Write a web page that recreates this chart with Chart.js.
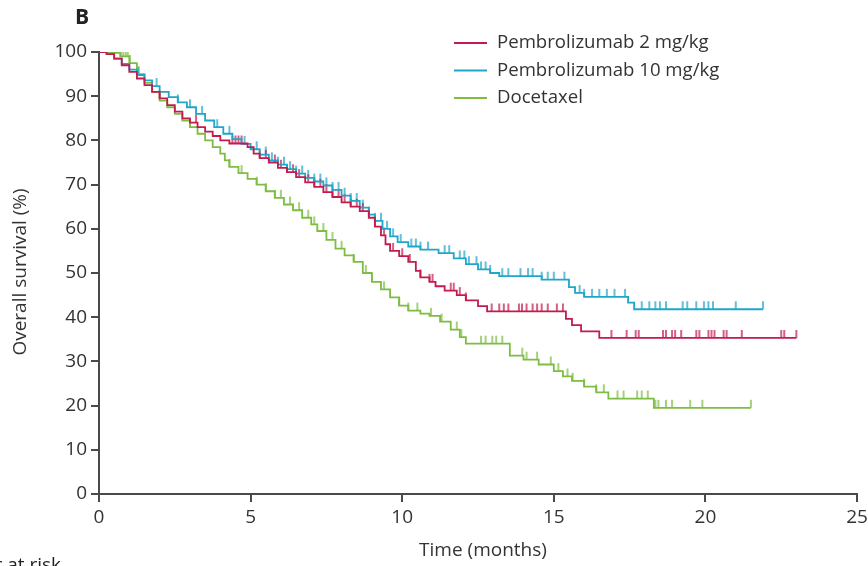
<!DOCTYPE html>
<html>
<head>
<meta charset="utf-8">
<script src="https://cdn.jsdelivr.net/npm/chart.js@4.4.0/dist/chart.umd.min.js"></script>
<style>
  html, body { margin: 0; padding: 0; background: #fff; }
  #wrap { width: 868px; height: 566px; position: relative; }
</style>
</head>
<body>
<div id="wrap"><canvas id="osChart"></canvas></div>
<script>
// Kaplan-Meier steps: [time in months, overall survival %]
const pembro2Steps = [
  [0, 100], [0.25, 99.5], [0.5, 98.5], [0.75, 97], [1, 95.5], [1.25, 94], [1.5, 92.5],
  [1.75, 91], [2, 89.5], [2.25, 88], [2.5, 86.5], [2.75, 85], [3, 84], [3.25, 83],
  [3.5, 82], [3.75, 81], [4, 80], [4.3, 79.3], [4.9, 78.5], [5.1, 77], [5.3, 76],
  [5.6, 75], [5.9, 73.8], [6.2, 72.8], [6.5, 71.7], [6.8, 70.5], [7.1, 69.5], [7.4, 68.3],
  [7.7, 67.2], [8, 66], [8.3, 65], [8.6, 64], [8.9, 62.5], [9.1, 60.5], [9.3, 58.5],
  [9.45, 56.5], [9.6, 55], [9.9, 53.8], [10.2, 52.5], [10.45, 50.5], [10.6, 49], [10.9, 48],
  [11.1, 47], [11.4, 46], [11.8, 45], [12.1, 43.8], [12.5, 42.5], [12.8, 41.3], [15.4, 39.6],
  [15.6, 38.2], [15.9, 36.8], [16.5, 35.3], [23.0, 35.3]
];
const pembro10Steps = [
  [0, 100], [0.25, 99.5], [0.5, 98.5], [0.75, 97.3], [1, 96], [1.25, 94.8], [1.5, 93.6],
  [1.75, 92.3], [2, 91], [2.3, 89.8], [2.6, 88.6], [2.9, 87.5], [3.2, 86], [3.5, 84.5],
  [3.8, 83], [4.1, 81.5], [4.4, 80.3], [4.7, 79.2], [5.0, 78], [5.3, 76.8], [5.6, 75.5],
  [5.9, 74.5], [6.2, 73.5], [6.5, 72.5], [6.8, 71.5], [7.1, 70.7], [7.4, 69.8], [7.7, 68.8],
  [8.0, 67.5], [8.3, 66.3], [8.6, 64.8], [8.9, 63.2], [9.1, 61.8], [9.35, 60], [9.6, 58.3],
  [9.85, 57], [10.2, 56], [10.6, 55.3], [11.2, 54.5], [11.7, 53.3], [12.1, 52], [12.5, 50.8],
  [12.9, 50], [13.2, 49.3], [14.6, 48.5], [15.5, 46.8], [15.7, 45.5], [16.0, 44.6],
  [17.45, 43.3], [17.65, 41.8], [21.9, 41.8]
];
const docetaxelSteps = [
  [0, 100], [0.4, 99.8], [0.7, 99], [1.0, 97.5], [1.25, 95], [1.5, 93], [1.75, 91], [2, 89],
  [2.25, 87.5], [2.5, 86], [2.75, 84.5], [3, 83], [3.25, 81.5], [3.5, 80], [3.75, 78.5],
  [4, 77], [4.15, 75.5], [4.3, 74], [4.6, 72.6], [4.9, 71.3], [5.2, 70], [5.5, 68.5],
  [5.8, 67], [6.1, 65.5], [6.4, 64.2], [6.7, 62.5], [7.0, 61], [7.2, 59.5], [7.5, 57.5],
  [7.8, 55.5], [8.1, 54], [8.4, 52.5], [8.7, 50], [9.0, 48], [9.3, 46.3], [9.6, 44.5],
  [9.9, 42.6], [10.2, 41.5], [10.6, 40.8], [10.9, 40.3], [11.25, 39], [11.6, 37.2],
  [11.9, 35.5], [12.1, 34], [13.55, 31.3], [14.0, 30.4], [14.5, 29.3], [15.0, 27.8],
  [15.3, 26.6], [15.6, 25.6], [16.0, 24.3], [16.4, 23], [16.8, 21.6], [18.3, 19.5], [21.5, 19.5]
];

// censoring times (months)
const pembro2Censor = [
  2.0, 3.2, 4.4, 4.5, 4.6, 4.7, 5.3, 5.5, 5.8, 6.0, 6.2, 6.4, 6.6, 6.9, 7.1, 7.3, 7.5, 7.7,
  7.9, 8.1, 8.3, 8.5, 8.7, 8.9, 9.1, 9.4, 9.7, 10.0, 10.25, 10.6, 10.9, 11.0, 11.6, 11.7,
  11.9, 12.1, 12.95, 13.2, 13.35, 13.5, 13.85, 13.95, 14.1, 14.3, 14.45, 14.6, 14.8, 15.1,
  15.3, 16.9, 17.4, 17.7, 17.8, 18.6, 18.7, 18.9, 19.0, 19.2, 19.7, 19.8, 20.1, 20.2, 20.3,
  20.6, 20.7, 21.2, 22.5, 22.6, 23.0
];
const pembro10Censor = [
  1.3, 1.9, 2.6, 3.0, 3.4, 3.9, 4.3, 4.8, 5.2, 5.5, 5.7, 5.9, 6.1, 6.3, 6.5, 6.7, 6.9, 7.1,
  7.3, 7.5, 7.7, 7.9, 8.1, 8.3, 8.5, 8.7, 8.9, 9.1, 9.3, 9.5, 9.7, 9.95, 10.3, 10.45, 10.6,
  10.85, 11.4, 11.55, 11.9, 12.05, 12.2, 12.45, 12.6, 12.75, 12.9, 13.3, 13.5, 13.9, 14.15,
  14.3, 14.6, 14.8, 15.0, 15.35, 15.85, 16.0, 16.26, 16.5, 16.75, 17.0, 17.35, 17.9,
  18.15, 18.35, 18.5, 18.7, 19.25, 19.4, 19.7, 19.95, 20.1, 20.25, 21.0, 21.9
];
const docetaxelCensor = [
  0.05, 0.12, 0.2, 0.28, 0.35, 0.42, 0.5, 0.58, 0.65, 0.72, 0.8, 0.88, 0.95, 1.02, 1.3,
  3.0, 4.3, 4.7, 5.2, 5.5, 5.8, 6.0, 6.3, 6.6, 6.9, 7.1, 7.4, 7.7, 8.0, 8.4, 8.8, 9.0,
  9.4, 9.9, 10.2, 10.5, 10.95, 11.3, 11.8, 11.95, 12.6, 12.75, 12.97, 13.1, 13.3, 13.96,
  14.1, 14.45, 14.9, 15.15, 15.45, 15.62, 16.0, 16.4, 16.65, 17.1, 17.3, 17.75, 17.9,
  18.1, 18.35, 18.45, 18.7, 18.9, 19.5, 19.9, 21.5
];

const seriesLabels = ["Pembrolizumab 2 mg/kg", "Pembrolizumab 10 mg/kg", "Docetaxel"];
const seriesColors = ["#c21c4f", "#1fa6c8", "#7dbd42"];

const FONT = "'Open Sans', 'DejaVu Sans', sans-serif";
const AXIS = "#4a4a4a";

function survivalAt(steps, t) {
  let s = steps[0][1];
  for (const [time, val] of steps) {
    if (time <= t) s = val; else break;
  }
  return s;
}

// small upward tick used as the censoring mark
function censorMark(color) {
  const c = document.createElement("canvas");
  c.width = 4;
  c.height = 18;
  const g = c.getContext("2d");
  g.strokeStyle = color;
  g.lineWidth = 1.4;
  g.beginPath();
  g.moveTo(2, 1);
  g.lineTo(2, 9);
  g.stroke();
  return c;
}

const stepSets = [pembro2Steps, pembro10Steps, docetaxelSteps];
const censorSets = [pembro2Censor, pembro10Censor, docetaxelCensor];

const datasets = [];
stepSets.forEach((steps, i) => {
  datasets.push({
    label: seriesLabels[i],
    data: steps.map(([x, y]) => ({ x, y })),
    borderColor: seriesColors[i],
    borderWidth: 1.8,
    stepped: "before",
    pointRadius: 0,
    fill: false,
  });
});
censorSets.forEach((times, i) => {
  datasets.push({
    label: seriesLabels[i] + " censored",
    data: times.map((t) => ({ x: t, y: survivalAt(stepSets[i], t) })),
    showLine: false,
    pointStyle: censorMark(seriesColors[i]),
    pointRadius: 3,
  });
});

// legend, panel letter and axis titles
const annotations = {
  id: "annotations",
  afterDraw(chart) {
    const ctx = chart.ctx;
    ctx.save();
    ctx.textBaseline = "middle";
    seriesLabels.forEach((lab, i) => {
      const y = 43 + i * 27.5;
      ctx.strokeStyle = seriesColors[i];
      ctx.lineWidth = 1.8;
      ctx.beginPath();
      ctx.moveTo(454, y);
      ctx.lineTo(487, y);
      ctx.stroke();
      ctx.fillStyle = "#333";
      ctx.font = "18.6px " + FONT;
      ctx.textAlign = "left";
      ctx.fillText(lab, 497, y);
    });

    ctx.fillStyle = "#222";
    ctx.font = "bold 21px " + FONT;
    ctx.textAlign = "left";
    ctx.fillText("B", 75, 18);

    ctx.fillStyle = "#333";
    ctx.font = "19px " + FONT;
    ctx.textAlign = "center";
    ctx.fillText("Time (months)", 483, 551);

    ctx.save();
    ctx.translate(21, 272);
    ctx.rotate(-Math.PI / 2);
    ctx.fillText("Overall survival (%)", 0, 0);
    ctx.restore();

    ctx.fillStyle = "#222";
    ctx.font = "19px " + FONT;
    ctx.textAlign = "right";
    ctx.textBaseline = "top";
    ctx.fillText("Number at risk", 61, 556);
    ctx.restore();
  },
};

new Chart(document.getElementById("osChart"), {
  type: "line",
  data: { datasets },
  options: {
    responsive: true,
    maintainAspectRatio: false,
    animation: false,
    layout: { padding: { left: 0, right: 11, top: 52, bottom: 0 } },
    plugins: {
      legend: { display: false },
      tooltip: { enabled: false },
    },
    scales: {
      x: {
        type: "linear",
        min: 0,
        max: 25,
        ticks: {
          stepSize: 5,
          color: "#333",
          padding: 4,
          maxRotation: 0,
          font: { family: FONT, size: 19 },
        },
        grid: {
          drawOnChartArea: false,
          color: AXIS,
          lineWidth: 2,
          tickLength: 8,
        },
        border: { color: AXIS, width: 2 },
        afterFit(scale) {
          scale.height = 72;
          scale.paddingLeft = 0;
          scale.paddingRight = 0;
        },
      },
      y: {
        min: 0,
        max: 100,
        ticks: {
          stepSize: 10,
          color: "#333",
          padding: 4,
          font: { family: FONT, size: 19 },
        },
        grid: {
          drawOnChartArea: false,
          color: AXIS,
          lineWidth: 2,
          tickLength: 8,
        },
        border: { color: AXIS, width: 2 },
        afterFit(scale) {
          scale.width = 99;
          scale.paddingTop = 0;
          scale.paddingBottom = 0;
        },
      },
    },
  },
  plugins: [annotations],
});
</script>
</body>
</html>
